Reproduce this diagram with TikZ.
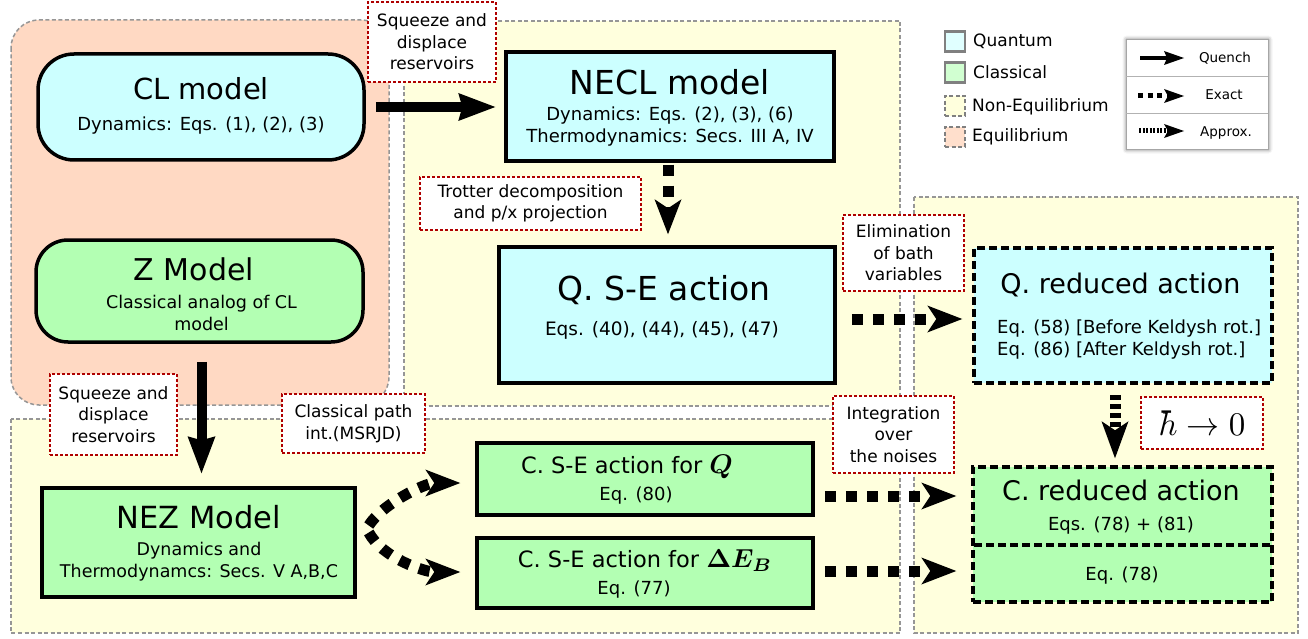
\documentclass[tikz,border=0pt]{standalone}
\usepackage{graphicx}
\usepackage{fontspec}
\setmainfont{DejaVu Sans}
\usetikzlibrary{arrows.meta,shadows.blur}
\definecolor{qfill}{RGB}{204,255,255}
\definecolor{cfill}{RGB}{179,255,179}
\definecolor{nefill}{RGB}{255,255,221}
\definecolor{eqfill}{RGB}{255,217,195}
\definecolor{regline}{RGB}{150,150,150}
\definecolor{lblred}{RGB}{175,0,0}
\newcommand\fz[2]{\fontsize{#1}{#2}\selectfont}
\newcommand\bigmath[2]{\scalebox{#1}{\fontsize{10}{12}\selectfont #2}}
\begin{document}
\begin{tikzpicture}[x=1pt,y=-1pt,
  region/.style={draw=regline, line width=1.5pt, dash pattern=on 4pt off 2.5pt},
  solidbox/.style={draw=black, line width=3.5pt, inner sep=0pt},
  dashbox/.style={draw=black, line width=3.5pt, dash pattern=on 8pt off 4pt, inner sep=0pt},
  lbl/.style={draw=lblred, line width=1.5pt, dash pattern=on 3pt off 2pt, fill=white, align=center, inner sep=0pt, font=\fz{17}{21.5}},
  tx/.style={inner sep=0pt, anchor=base},
  quench/.style={line width=10pt, -{Stealth[length=37pt,width=28pt,inset=4pt,line width=0pt]}},
  exact/.style={line width=11pt, dash pattern=on 11pt off 10pt, -{Stealth[length=35pt,width=27pt,inset=9pt,line width=0pt]}},
  approx/.style={line width=11pt, dash pattern=on 5pt off 4pt, -{Stealth[length=37pt,width=27pt,inset=9pt,line width=0pt]}},
  legsq/.style={minimum size=20pt, inner sep=0pt, line width=2.5pt, draw=gray},
  legtx/.style={inner sep=0pt, anchor=base west, font=\fz{17}{20}},
  tabtx/.style={inner sep=0pt, anchor=base, font=\fz{13.5}{16}}
]
\useasboundingbox (0,0) rectangle (1308,639);

% ---------- regions ----------
\draw[region, fill=eqfill, rounded corners=28pt] (11,20) rectangle (389,405);
\draw[region, fill=nefill] (404,21) rectangle (900,406);
\draw[region, fill=nefill] (11,419) rectangle (900,633);
\draw[region, fill=nefill] (914,197) rectangle (1298,633);

% ---------- boxes ----------
\node[solidbox, fill=qfill, rounded corners=36pt, minimum width=326pt, minimum height=106pt] (cl) at (201,107) {};
\node[solidbox, fill=qfill, minimum width=328pt, minimum height=109pt] (necl) at (670,106.5) {};
\node[solidbox, fill=qfill, minimum width=336pt, minimum height=136pt] (qse) at (667,315) {};
\node[dashbox, fill=qfill, minimum width=298pt, minimum height=135pt] (qred) at (1123,315.5) {};
\node[solidbox, fill=cfill, rounded corners=32pt, minimum width=327pt, minimum height=102pt] (z) at (199.5,291) {};
\node[solidbox, fill=cfill, minimum width=313pt, minimum height=109pt] (nez) at (198.5,542.5) {};
\node[solidbox, fill=cfill, minimum width=336pt, minimum height=72pt] (cseq) at (645,479) {};
\node[solidbox, fill=cfill, minimum width=336pt, minimum height=70pt] (csede) at (645,573) {};
\node[dashbox, fill=cfill, minimum width=299pt, minimum height=135pt] (cred) at (1122.5,534.5) {};
\coordinate (divl) at (974,545);
\coordinate (divr) at (1271,545);
\draw[line width=3.5pt, dash pattern=on 8pt off 4pt] (divl) -- (divr);

% ---------- box texts ----------
\node[tx, font=\fz{29}{34}] (clt) at (201,100) {CL model};
\node[tx, font=\fz{18}{22}] (cls) at (201,131) {Dynamics: Eqs. (1), (2), (3)};
\node[tx, font=\fz{33}{38}] (neclt) at (670,95) {NECL model};
\node[tx, font=\fz{18}{22}] (necls1) at (670,121) {Dynamics: Eqs. (2), (3), (6)};
\node[tx, font=\fz{18}{22}] (necls2) at (670,142.5) {Thermodynamics: Secs. III A, IV};
\node[tx, font=\fz{33}{38}] (qset) at (664,300) {Q. S-E action};
\node[tx, font=\fz{18.5}{22}] (qses) at (662,335) {Eqs. (40), (44), (45), (47)};
\node[tx, font=\fz{27}{32}] (qredt) at (1120.5,293) {Q. reduced action};
\node[tx, anchor=base west, font=\fz{18}{22}] (qreds1) at (997,333) {Eq. (58) [Before Keldysh rot.]};
\node[tx, anchor=base west, font=\fz{18}{22}] (qreds2) at (997,355) {Eq. (86) [After Keldysh rot.]};
\node[tx, font=\fz{30}{35}] (zt) at (194,280) {Z Model};
\node[tx, font=\fz{17.5}{21}] (zs1) at (201.5,308) {Classical analog of CL};
\node[tx, font=\fz{17.5}{21}] (zs2) at (201.5,330) {model};
\node[tx, font=\fz{30.5}{35}] (nezt) at (199,528) {NEZ Model};
\node[tx, font=\fz{17.5}{21}] (nezs1) at (199,555) {Dynamics and};
\node[tx, font=\fz{17.5}{21}] (nezs2) at (199,577) {Thermodynamcs: Secs. V A,B,C};
\node[tx, font=\fz{22.5}{27}] (cseqt) at (627,473) {C. S-E action for \bigmath{2.7}{\boldmath$Q$}};
\node[tx, font=\fz{18}{22}] (cseqs) at (636,500) {Eq. (80)};
\node[tx, font=\fz{22.5}{27}] (csedet) at (645,567.5) {C. S-E action for \bigmath{2.6}{\boldmath$\Delta E_B$}};
\node[tx, font=\fz{18}{22}] (csedes) at (634,594) {Eq. (77)};
\node[tx, font=\fz{27}{32}] (credt) at (1121,500) {C. reduced action};
\node[tx, font=\fz{18}{22}] (creds1) at (1121,530) {Eqs. (78) + (81)};
\node[tx, font=\fz{18}{22}] (creds2) at (1122,580) {Eq. (78)};

% ---------- arrows ----------
\draw[quench, shorten <=10pt, shorten >=9pt] (cl.east) -- (cl.east -| necl.west);
\draw[quench, shorten <=18pt, shorten >=13pt] ([xshift=2pt]z.south) -- ([xshift=2pt]z.south |- nez.north);
\draw[exact, shorten <=2pt, shorten >=11pt] ([xshift=-2pt]necl.south) -- ([xshift=-2pt]necl.south |- qse.north);
\draw[exact, shorten <=15pt, shorten >=10pt] ([yshift=-4pt]qse.east) -- ([yshift=-4pt]qse.east -| qred.west);
\draw[approx, shorten <=10pt, shorten >=7pt] ([xshift=-8pt]qred.south) -- ([xshift=-8pt]qred.south |- cred.north);
\draw[exact, shorten <=10pt, shorten >=15pt] ([yshift=-17pt]cseq.east) -- ([yshift=-17pt]cseq.east -| cred.west);
\draw[exact, shorten <=10pt, shorten >=15pt] ([yshift=2pt]csede.east) -- ([yshift=2pt]csede.east -| cred.west);
\draw[exact, shorten >=15pt] ([shift={(12pt,17pt)}]nez.east) .. controls +(14,-22) and +(-50,0) .. ([yshift=-4pt]cseq.west);
\draw[exact, shorten >=15pt] ([shift={(12pt,10pt)}]nez.east) .. controls +(14,26) and +(-50,0) .. ([yshift=1pt]csede.west);

% ---------- labels ----------
\node[lbl, minimum width=128pt, minimum height=80pt] (lsq1) at (432,42) {Squeeze and\\displace\\reservoirs};
\node[lbl, minimum width=221pt, minimum height=53pt] (ltrot) at (530.5,203.5) {Trotter decomposition\\and p/x projection};
\node[lbl, minimum width=121pt, minimum height=76pt] (lelim) at (903.5,253) {Elimination\\of bath\\variables};
\node[lbl, minimum width=121pt, minimum height=77pt] (lint) at (893.5,434.5) {Integration\\over\\the noises};
\node[lbl, minimum width=127pt, minimum height=81pt] (lsq2) at (113.5,414.5) {Squeeze and\\displace\\reservoirs};
\node[lbl, minimum width=143pt, minimum height=59pt] (lcpi) at (353.5,423.5) {Classical path\\int.(MSRJD)};
\node[lbl, minimum width=122pt, minimum height=52pt] (lhbar) at (1202,423) {\bigmath{3.3}{$\hbar\to 0$}};

% ---------- legend ----------
\node[legsq, fill=qfill!60!white] (sq1) at (955,41.5) {};
\node[legsq, fill=cfill!60!white] (sq2) at (955,72.5) {};
\node[legsq, fill=nefill, dash pattern=on 4pt off 2.5pt] (sq3) at (955,106) {};
\node[legsq, fill=eqfill!85!white, dash pattern=on 4pt off 2.5pt] (sq4) at (955,137) {};
\node[legtx] (lt1) at (973,47) {Quantum};
\node[legtx] (lt2) at (973,79) {Classical};
\node[legtx] (lt3) at (972,111.5) {Non-Equilibrium};
\node[legtx] (lt4) at (972,142) {Equilibrium};

\node[draw=gray!70, fill=white, line width=0.8pt, minimum width=142pt, minimum height=110pt, inner sep=0pt,
  blur shadow={shadow xshift=0.5pt, shadow yshift=-0.5pt, shadow blur radius=4pt, shadow opacity=60}] (legtab) at (1197,94) {};
\coordinate (d1l) at (1126,76);
\coordinate (d1r) at (1268,76);
\coordinate (d2l) at (1126,113);
\coordinate (d2r) at (1268,113);
\draw[gray!60, line width=0.8pt] (d1l) -- (d1r);
\draw[gray!60, line width=0.8pt] (d2l) -- (d2r);
\coordinate (qa) at (1140,58);
\coordinate (qb) at (1184,58);
\coordinate (ea) at (1138,96);
\coordinate (eb) at (1184,96);
\coordinate (aa) at (1139,131);
\coordinate (ab) at (1184,131);
\draw[line width=4.5pt, -{Stealth[length=20pt,width=14pt,inset=3pt,line width=0pt]}] (qa) -- (qb);
\draw[line width=5pt, dash pattern=on 5pt off 4.5pt, -{Stealth[length=20pt,width=14pt,inset=4pt,line width=0pt]}] (ea) -- (eb);
\draw[line width=5pt, dash pattern=on 2pt off 1.5pt, -{Stealth[length=20pt,width=14pt,inset=4pt,line width=0pt]}] (aa) -- (ab);
\node[tabtx] (tq) at (1225,63) {Quench};
\node[tabtx] (te) at (1224,100) {Exact};
\node[tabtx] (tap) at (1226,136.5) {Approx.};
\end{tikzpicture}
\end{document}
